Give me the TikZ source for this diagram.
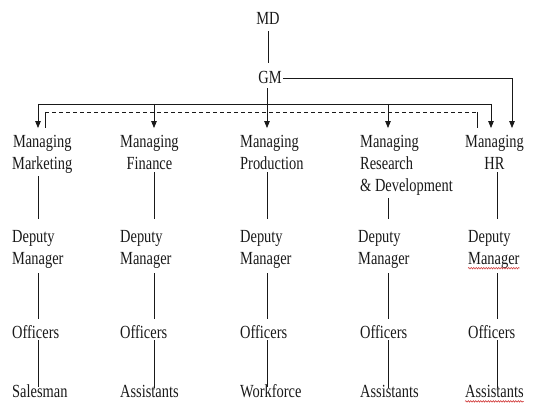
\documentclass[tikz,border=0pt]{standalone}
\usepackage{fontspec}
\setmainfont[FakeStretch=0.78]{Liberation Serif}
\usepackage{tikz}
\usetikzlibrary{arrows.meta,decorations.pathmorphing}
\definecolor{chartink}{RGB}{25,25,25}
\definecolor{spellred}{RGB}{205,45,45}

\begin{document}
\begin{tikzpicture}[x=1pt, y=-1pt, line cap=butt,
    post/.style={inner sep=0pt, font=\fontsize{18.5}{22}\selectfont,
      text=chartink},
    link/.style={chartink, line width=.8pt},
    feed/.style={link, -{Triangle[length=7pt,width=5.5pt]}},
    staffline/.style={link, dash pattern=on 4pt off 3pt},
    spell/.style={spellred, line width=.5pt, decorate,
      decoration={snake, amplitude=.8pt, segment length=2.5pt}}]
  \useasboundingbox (0,0) rectangle (539,404);

  % Top management.
  \node[post, anchor=base] (md) at (268,25) {MD};
  \node[post, anchor=base] (gm) at (270,84) {GM};

  % Heads of department; a multi-line node sits on the baseline of its
  % last line, so the first lines all come out at 147.
  \node[post, anchor=base west, align=center] (mkt) at (12,169)
    {Managing\\Marketing};
  \node[post, anchor=base west, align=center] (fin) at (120,169)
    {Managing\\Finance};
  \node[post, anchor=base west, align=left] (prod) at (240,169)
    {Managing\\Production};
  \node[post, anchor=base west, align=left] (rnd) at (360,191)
    {Managing\\Research\\\& Development};
  \node[post, anchor=base west, align=center] (hr) at (465,169)
    {Managing\\HR};

  % Deputies, officers and the bottom tier.
  \node[post, anchor=base west, align=left] (dmkt) at (12,264)
    {Deputy\\Manager};
  \node[post, anchor=base west, align=left] (dfin) at (120,264)
    {Deputy\\Manager};
  \node[post, anchor=base west, align=left] (dprod) at (240,264)
    {Deputy\\Manager};
  \node[post, anchor=base west, align=left] (drnd) at (358,264)
    {Deputy\\Manager};
  \node[post, anchor=base west, align=left] (dhr) at (468,264)
    {Deputy\\Manager};

  \node[post, anchor=base west] (omkt) at (12,338) {Officers};
  \node[post, anchor=base west] (ofin) at (120,338) {Officers};
  \node[post, anchor=base west] (oprod) at (240,338) {Officers};
  \node[post, anchor=base west] (ornd) at (360,338) {Officers};
  \node[post, anchor=base west] (ohr) at (468,338) {Officers};

  \node[post, anchor=base west] (smkt) at (12,397) {Salesman};
  \node[post, anchor=base west] (sfin) at (120,397) {Assistants};
  \node[post, anchor=base west] (sprod) at (240,397) {Workforce};
  \node[post, anchor=base west] (srnd) at (360,397) {Assistants};
  \node[post, anchor=base west] (shr) at (465,397) {Assistants};

  % Column lines, the distribution bus and the dashed staff link.
  \coordinate (c1) at (38,0);
  \coordinate (c2) at (154,0);
  \coordinate (c3) at (267,0);
  \coordinate (c4) at (388,0);
  \coordinate (c5) at (497,0);
  \coordinate (k1) at (38,104);
  \coordinate (k2) at (154,104);
  \coordinate (k4) at (388,104);
  \coordinate (k5) at (491,104);
  \coordinate (side) at (512,0);
  \coordinate (d1) at (45,112);
  \coordinate (d2) at (477,112);

  \draw[link, shorten <=6pt, shorten >=9pt] (md.south) -- (md.south |- gm.north);
  \draw[feed, shorten <=4pt, shorten >=6.5pt] (c3 |- gm.south) -- (c3 |- prod.north);
  \draw[feed, shorten <=1pt, shorten >=6.5pt] (gm.east) -| (side |- hr.north);

  \draw[link] (k1) -- (k5);
  \foreach \k/\head in {k1/mkt,k2/fin,k4/rnd,k5/hr}{
    \draw[feed, shorten >=6.5pt] (\k) -- (\k |- \head.north);
  }

  \draw[link, shorten >=6.5pt] (d1) -- (d1 |- mkt.north);
  \draw[link, shorten >=6.5pt] (d2) -- (d2 |- hr.north);
  \draw[staffline] (d1) -- (d2);

  % Vertical reporting lines inside each department.
  \foreach \col/\head/\dep/\off/\low in {1/mkt/dmkt/omkt/smkt,
      2/fin/dfin/ofin/sfin, 3/prod/dprod/oprod/sprod,
      4/rnd/drnd/ornd/srnd, 5/hr/dhr/ohr/shr}{
    \draw[link, shorten <=3pt, shorten >=11pt]
      (c\col |- \head.south) -- (c\col |- \dep.north);
    \draw[link, shorten <=5pt, shorten >=6pt]
      (c\col |- \dep.south) -- (c\col |- \off.north);
    \draw[link, shorten <=2pt, shorten >=-3pt]
      (c\col |- \off.south) -- (c\col |- \low.north);
  }

  % Spell-check marks under the last column.
  \draw[spell] (dhr.south west) -- (dhr.south east);
  \draw[spell] ([yshift=-4pt]shr.south west) -- ([yshift=-4pt]shr.south east);
\end{tikzpicture}
\end{document}
